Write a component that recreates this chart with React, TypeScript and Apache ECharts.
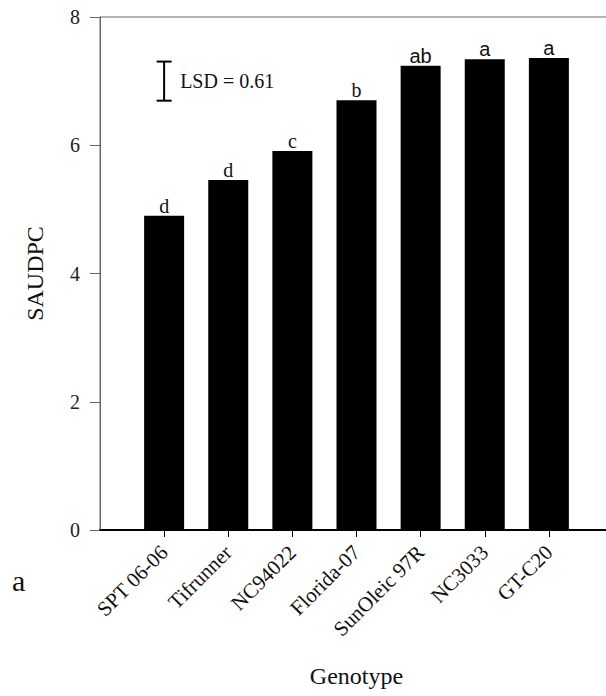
import React, { useEffect, useRef } from "react";
import * as echarts from "echarts";

// Genotypes and their SAUDPC means, with mean-separation letters
const genotypes = ["SPT 06-06", "Tifrunner", "NC94022", "Florida-07", "SunOleic 97R", "NC3033", "GT-C20"];
const saudpc = [4.9, 5.46, 5.91, 6.7, 7.24, 7.34, 7.36];
const groups = ["d", "d", "c", "b", "ab", "a", "a"];
const lsd = 0.61;
const lsdCenter = 7.0;
const yTicks = [0, 2, 4, 6, 8];
const panelLabel = "a";

const SERIF = "'Liberation Serif', 'Times New Roman', serif";
const SANS = "'Liberation Sans', Arial, sans-serif";

export default function App() {
  const ref = useRef<HTMLDivElement>(null);

  useEffect(() => {
    if (!ref.current) return;
    const chart = echarts.init(ref.current, undefined, { renderer: "svg" });
    const positions = genotypes.map((_, i) => i + 1);

    chart.setOption({
      animation: false,
      backgroundColor: "#ffffff",
      grid: {
        left: 100,
        right: -7,
        top: 17,
        bottom: 166,
        outerBoundsMode: "none",
        containLabel: false,
        show: true,
        borderColor: "#666",
        borderWidth: 1,
      },
      xAxis: {
        type: "value",
        min: 0,
        max: 8,
        interval: 1,
        name: "Genotype",
        nameLocation: "middle",
        nameGap: 134,
        nameTextStyle: { fontFamily: SERIF, fontSize: 24, color: "#111" },
        axisLine: { show: true, lineStyle: { color: "#000", width: 2 } },
        axisTick: {
          show: true,
          length: 7,
          customValues: positions,
          lineStyle: { color: "#000", width: 1 },
        },
        axisLabel: {
          show: true,
          customValues: positions,
          rotate: 45,
          margin: 19,
          fontFamily: SERIF,
          fontSize: 21,
          color: "#111",
          formatter: (v: number) => genotypes[Math.round(v) - 1] ?? "",
        },
        splitLine: { show: false },
      },
      yAxis: {
        type: "value",
        min: yTicks[0],
        max: yTicks[yTicks.length - 1],
        interval: 2,
        name: "SAUDPC",
        nameLocation: "middle",
        nameGap: 53,
        nameTextStyle: { fontFamily: SERIF, fontSize: 24, color: "#111" },
        axisLine: { show: true, lineStyle: { color: "#666", width: 1 } },
        axisTick: { show: true, length: 10, lineStyle: { color: "#666", width: 1 } },
        axisLabel: { margin: 20, fontFamily: SERIF, fontSize: 20, color: "#222" },
        splitLine: { show: false },
      },
      graphic: [
        {
          type: "text",
          left: 12,
          top: 565,
          style: { text: panelLabel, fontFamily: SERIF, fontSize: 30, fill: "#111" },
        },
      ],
      series: [
        {
          type: "bar",
          barWidth: 40,
          itemStyle: { color: "#000" },
          data: saudpc.map((v, i) => ({
            value: [positions[i], v],
            label: { fontFamily: i >= 4 ? SANS : SERIF },
          })),
          label: {
            show: true,
            position: "top",
            distance: 0,
            fontSize: 20,
            color: "#111",
            formatter: (p: any) => groups[p.dataIndex],
          },
        },
        {
          type: "custom",
          data: [[1, lsdCenter]],
          renderItem: (_params: any, api: any) => {
            const x = api.value(0);
            const c = api.value(1);
            const top = api.coord([x, c + lsd / 2]);
            const bot = api.coord([x, c - lsd / 2]);
            const half = 7.5;
            const stroke = { stroke: "#000", lineWidth: 2 };
            return {
              type: "group",
              children: [
                { type: "line", shape: { x1: top[0], y1: top[1], x2: bot[0], y2: bot[1] }, style: stroke },
                { type: "line", shape: { x1: top[0] - half, y1: top[1], x2: top[0] + half, y2: top[1] }, style: stroke },
                { type: "line", shape: { x1: bot[0] - half, y1: bot[1], x2: bot[0] + half, y2: bot[1] }, style: stroke },
                {
                  type: "text",
                  x: top[0] + 16,
                  y: (top[1] + bot[1]) / 2,
                  style: {
                    text: `LSD = ${lsd.toFixed(2)}`,
                    fontFamily: SERIF,
                    fontSize: 20,
                    fill: "#111",
                    verticalAlign: "middle",
                    align: "left",
                  },
                },
              ],
            };
          },
        },
      ],
    });

    return () => chart.dispose();
  }, []);

  return (
    <div
      ref={ref}
      style={{ position: "fixed", left: 0, top: 0, width: 606, height: 696, background: "#fff" }}
    />
  );
}
